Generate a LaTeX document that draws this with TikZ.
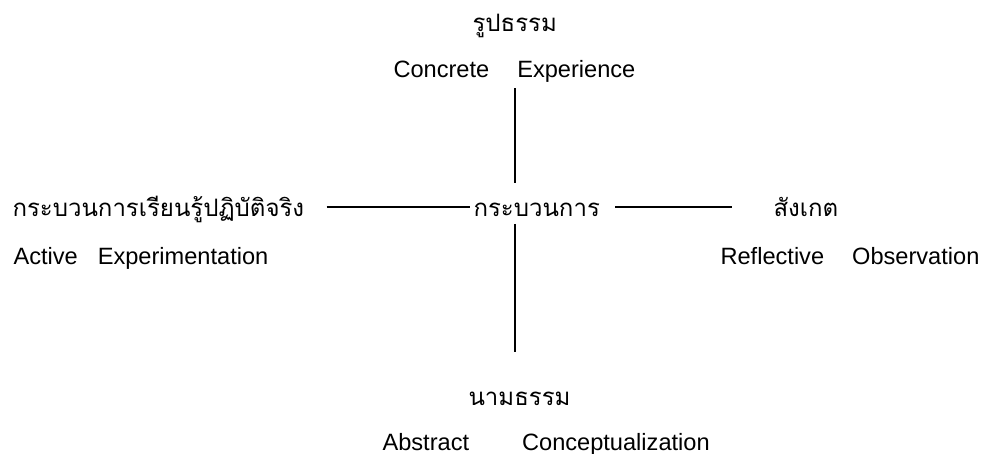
\documentclass[tikz,border=0pt]{standalone}
\usepackage{fontspec}
\setmainfont{Liberation Sans}
\newfontfamily\thaifont[Script=Thai]{Loma}
\usetikzlibrary{calc}

\begin{document}
\begin{tikzpicture}[x=1pt,y=-1pt,line width=1.1pt,
    every node/.style={inner sep=0pt,anchor=base west},
    thai/.style={font=\thaifont\fontsize{24}{28}\selectfont},
    eng/.style={font=\fontsize{23.6}{28}\selectfont}]
  \useasboundingbox (0,0) rectangle (984,454);
  \node[thai] (rup) at (472,32) {รูปธรรม};
  \node[eng] (concrete) at (393,78) {Concrete\hspace{28pt}Experience};
  \node[thai] (learn) at (12,217) {กระบวนการเรียนรู้ปฏิบัติจริง};
  \node[thai] (proc) at (473,217) {กระบวนการ};
  \node[thai] (observe) at (773,217) {สังเกต};
  \node[eng] (active) at (13,264) {Active\hspace{20pt}Experimentation};
  \node[eng] (reflect) at (720,264) {Reflective\hspace{28pt}Observation};
  \node[thai] (nam) at (468,405) {นามธรรม};
  \node[eng] (abstract) at (382,450) {Abstract\hspace{53pt}Conceptualization};
  \coordinate (hub) at (515,207);
  \draw[shorten <=5pt,shorten >=24pt] (concrete.south -| hub) -- (hub);
  \draw[shorten <=17pt,shorten >=53pt] (hub) -- (hub |- nam.base);
  \draw ([xshift=22pt]learn.east |- hub) -- ([xshift=-3pt]proc.west |- hub);
  \draw ([xshift=15pt]proc.east |- hub) -- ([xshift=-41pt]observe.west |- hub);
\end{tikzpicture}
\end{document}
